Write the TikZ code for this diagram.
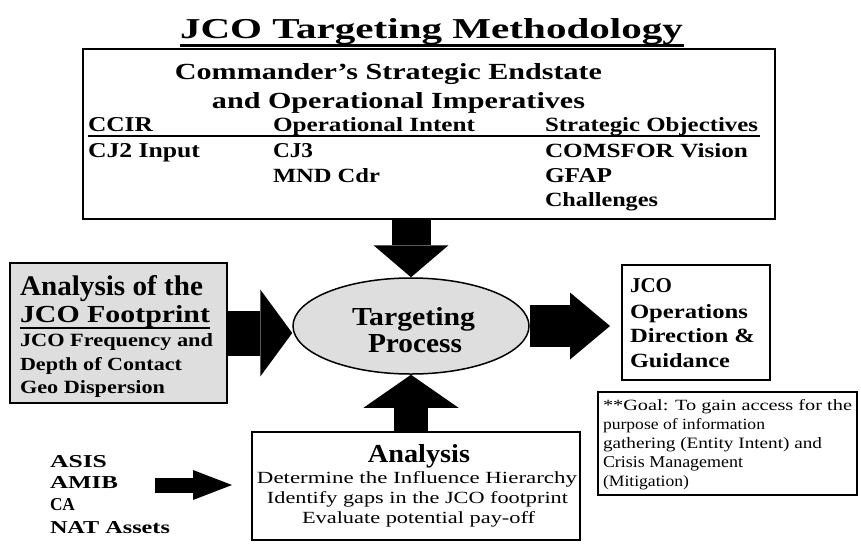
\documentclass[tikz,border=0pt]{standalone}
\usepackage{fontspec}
\setmainfont{Liberation Serif}
\usepackage{graphicx}
\usetikzlibrary{arrows.meta,shapes.geometric}
\newcommand{\fitt}[3]{\resizebox{#1pt}{#2pt}{#3}}
\tikzset{
  txt/.style={inner sep=0pt, outer sep=0pt, anchor=base west},
  ctxt/.style={inner sep=0pt, outer sep=0pt, anchor=base},
  frame/.style={draw=black, line width=1.5pt, inner sep=0pt, outer sep=0pt},
  stipple/.style={fill=black!13},
  bigarrow/.style n args={3}{draw=black, line width=#1pt,
     -{Triangle[length=#3pt, width=#2pt, line width=0pt]}},
}
\begin{document}
\begin{tikzpicture}[x=1pt,y=-1pt]
\useasboundingbox (0,0) rectangle (861,544);
\fill[white] (0,0) rectangle (861,544);

% title
\node[ctxt] (title) at (431.5,38) {\fitt{503}{20}{\bfseries JCO Targeting Methodology}};
\draw[line width=2.6pt] (180,45.5) -- (684,45.5);

% top box
\node[frame, minimum width=692pt, minimum height=170pt, anchor=north west] (top) at (83,49) {};
\node[ctxt] (h1) at (388.5,79) {\fitt{427}{16}{\bfseries Commander’s Strategic Endstate}};
\node[ctxt] (h2) at (398.5,108) {\fitt{373}{16}{\bfseries and Operational Imperatives}};
\node[txt] (c1) at (88,131) {\fitt{65}{14}{\bfseries CCIR}};
\node[txt] (c2) at (273,131) {\fitt{202}{14}{\bfseries Operational Intent}};
\node[txt] (c3) at (545,131) {\fitt{213}{14}{\bfseries Strategic Objectives}};
\draw[line width=1.5pt] (c1.base west) ++(0,5) -- (760,136);
\node[txt] (r1) at (88,157) {\fitt{112}{14}{\bfseries CJ2 Input}};
\node[txt] (r2) at (273,157) {\fitt{40}{14}{\bfseries CJ3}};
\node[txt] (r3) at (545,157) {\fitt{203}{14}{\bfseries COMSFOR Vision}};
\node[txt] (r4) at (273,182) {\fitt{107}{14}{\bfseries MND Cdr}};
\node[txt] (r5) at (545,182) {\fitt{67}{14}{\bfseries GFAP}};
\node[txt] (r6) at (545,206) {\fitt{113}{14}{\bfseries Challenges}};

% left box
\node[frame, stipple, minimum width=217pt, minimum height=140pt, anchor=north west] (lbox) at (10,263) {};
\node[txt] (l1) at (20,295) {\fitt{183}{20}{\bfseries Analysis of the}};
\node[txt] (l2) at (20,322) {\fitt{190}{17}{\bfseries JCO Footprint}};
\draw[line width=2pt] (20,327.5) -- (210,327.5);
\node[txt] (l3) at (20,346) {\fitt{193}{13}{\bfseries JCO Frequency and}};
\node[txt] (l4) at (20,370) {\fitt{162}{13}{\bfseries Depth of Contact}};
\node[txt] (l5) at (20,393) {\fitt{145}{13}{\bfseries Geo Dispersion}};

% ellipse
\node[ellipse, draw=black, line width=1.5pt, stipple, minimum width=236pt, minimum height=96pt, inner sep=0pt] (ell) at (411,326) {};
\node[ctxt] (e1) at (413.5,325) {\fitt{123}{18}{\bfseries Targeting}};
\node[ctxt] (e2) at (415,352) {\fitt{94}{18}{\bfseries Process}};

% JCO box
\node[frame, minimum width=148pt, minimum height=115pt, anchor=north west] (jco) at (622,265) {};
\node[txt] (j1) at (630,292) {\fitt{42}{14}{\bfseries JCO}};
\node[txt] (j2) at (630,318) {\fitt{118}{14}{\bfseries Operations}};
\node[txt] (j3) at (630,342) {\fitt{125}{14}{\bfseries Direction \&}};
\node[txt] (j4) at (630,367) {\fitt{100}{14}{\bfseries Guidance}};

% goal box
\node[frame, line width=1.2pt, minimum width=259pt, minimum height=103pt, anchor=north west] (goal) at (598,392) {};
\node[txt] (g1) at (603,410) {\fitt{249}{11}{**Goal: To gain access for the}};
\node[txt] (g2) at (603,429) {\fitt{162}{11}{purpose of information}};
\node[txt] (g3) at (603,448) {\fitt{219}{11}{gathering (Entity Intent) and}};
\node[txt] (g4) at (603,467) {\fitt{140}{11}{Crisis Management}};
\node[txt] (g5) at (603,486) {\fitt{86}{11}{(Mitigation)}};

% analysis box
\node[frame, minimum width=328pt, minimum height=108pt, anchor=north west] (ana) at (252,432) {};
\node[ctxt] (a0) at (419,462) {\fitt{102}{18}{\bfseries Analysis}};
\node[ctxt] (a1) at (417,483) {\fitt{320}{12}{Determine the Influence Hierarchy}};
\node[ctxt] (a2) at (417.5,503) {\fitt{301}{12}{Identify gaps in the JCO footprint}};
\node[ctxt] (a3) at (418.5,523) {\fitt{233}{12}{Evaluate potential pay-off}};

% sources
\node[txt] (s1) at (50,467) {\fitt{57}{12}{\bfseries ASIS}};
\node[txt] (s2) at (50,488) {\fitt{68}{12}{\bfseries AMIB}};
\node[txt] (s3) at (50,510) {\fitt{25}{12}{\bfseries CA}};
\node[txt] (s4) at (50,533) {\fitt{120}{12}{\bfseries NAT Assets}};

% arrows
\draw[bigarrow={39}{75}{32}] (top.south -| ell.north) -- (ell.north);
\draw[bigarrow={34}{95}{33}] (ana.north -| ell.south) -- (ell.south);
\draw[bigarrow={45}{87}{32}] (lbox.east) -- (lbox.east -| ell.west);
\draw[bigarrow={42}{67}{40}, shorten >=12pt] (ell.east) -- (ell.east -| jco.west);
\coordinate (src) at (155,485);
\draw[bigarrow={15}{30}{39}, shorten >=20pt] (src) -- (src -| ana.west);
\end{tikzpicture}
\end{document}
